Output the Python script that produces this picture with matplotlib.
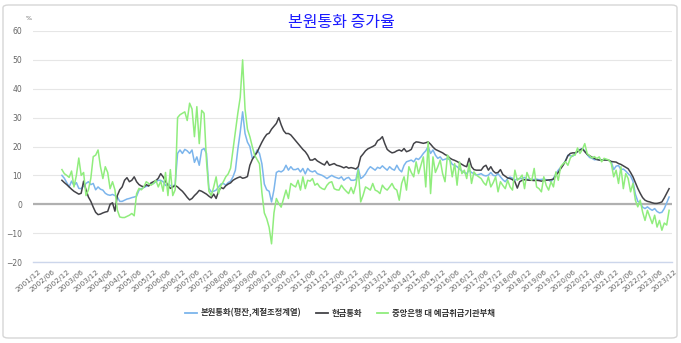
import matplotlib
matplotlib.use('Agg')
import matplotlib.pyplot as plt
import numpy as np
import pandas as pd
from matplotlib.patches import FancyBboxPatch
from matplotlib.transforms import ScaledTranslation
from matplotlib.lines import Line2D

plt.rcParams['font.family'] = ['Noto Sans CJK KR', 'DejaVu Sans']

# ---------------- data ----------------
axis_start = '2001-12'
axis_end = '2023-12'
data_start = '2002-12'

series_names = ['본원통화(평잔,계절조정계열)', '현금통화', '중앙은행 대 예금취급기관부채']

# 본원통화 (monthly, 2002/12 .. 2023/12)
blue = [
    10.0, 9.0, 7.5, 6.0, 8.0, 6.5, 7.5, 5.5, 5.4, 6.3, 7.2, 7.8, 6.8, 7.2, 5.0, 6.0, 5.2, 4.9, 3.8, 3.3,
    3.1, 3.4, 3.0, 2.5, 1.0, 1.0, 1.4, 1.8, 2.0, 2.3, 2.5, 2.8, 4.9, 5.4, 5.8, 6.2, 6.6, 7.0, 7.2, 7.8,
    8.3, 8.3,
    7.8, 6.5, 7.0, 6.5, 6.0, 7.0, 17.6, 18.8, 17.6, 19.0, 18.5, 17.6, 18.8, 14.5, 16.4, 13.5, 18.8, 19.3,
    17.6, 5.5, 4.3, 4.5, 4.9, 6.0, 7.0, 7.2, 6.6, 7.5, 8.0, 9.5, 11.8, 19.0, 25.0, 32.0, 24.5, 21.5,
    20.0, 16.0, 16.5, 18.8, 17.6, 14.0, 7.0, 5.0, 4.5,
    0.8, 5.0, 11.0, 11.5, 11.2, 11.8, 13.5, 11.8, 13.0, 12.0, 12.0, 12.4, 11.2, 12.4, 10.5, 12.4, 11.5,
    11.2, 11.6, 10.6, 10.3, 10.0, 9.5, 8.9, 9.5, 10.0, 9.5, 9.2, 8.9, 9.5, 8.3, 9.0, 9.3, 8.3, 8.3, 8.5,
    12.4, 8.9, 9.5, 10.5, 12.0, 13.0, 12.4, 11.8,
    12.8, 12.4, 13.3, 12.5, 11.8, 13.0, 12.2, 11.8, 13.5, 12.0, 11.2, 13.5, 14.7, 15.0, 15.3, 14.7, 15.9,
    15.5, 16.4, 17.6, 18.5, 20.0, 17.6, 18.8, 17.0, 15.9, 16.4, 15.3, 15.6, 15.9, 15.3, 13.8, 13.5, 13.0,
    12.2, 11.5, 11.0, 10.6, 11.8, 11.0, 10.6, 10.1, 10.3,
    10.6, 10.0, 9.8, 10.1, 11.0, 10.0, 9.8, 10.6, 9.5, 8.5, 7.8, 8.9, 9.4, 9.0, 8.3, 8.8, 8.9, 8.9, 9.3,
    8.6, 8.7, 8.5, 8.6, 8.7, 8.5, 8.6, 8.7, 8.5, 8.4, 7.8, 9.0, 10.5, 11.8, 12.8, 13.8, 15.0, 17.0, 16.8,
    16.6, 17.6, 18.2, 19.0, 19.3, 18.5,
    17.2, 16.2, 15.9, 15.4, 15.5, 15.4, 15.3, 15.5, 15.4, 15.2, 14.7, 12.0, 13.2, 13.4, 12.0, 12.2, 11.5,
    10.6, 9.8, 8.0, 3.5, 1.0, 0.5, -1.0, -1.5, -0.9, -1.6, -2.1, -1.5, -2.5, -3.0, -2.8, -1.5, 0.5, 2.5,
]

# 현금통화
black = [
    8.3, 7.5, 6.8, 6.0, 5.2, 4.5, 4.0, 3.5, 3.8, 8.0, 5.0, 2.5, 1.0, -1.0, -2.8, -3.6, -3.4, -3.0, -2.7,
    -2.5, 0.0, 0.5, -2.4, 3.0, 5.0, 6.0, 8.3, 9.2, 7.8, 8.3, 9.5, 7.8, 6.8, 6.3, 6.0, 6.8, 6.3, 7.4, 7.8,
    8.2, 9.0, 10.6,
    9.5, 8.0, 6.5, 5.5, 6.0, 6.5, 6.0, 5.2, 4.5, 3.5, 2.4, 1.5, 2.0, 3.0, 3.8, 4.8, 4.5, 4.0, 3.5, 2.8,
    2.2, 3.5, 2.0, 4.5, 5.8, 5.4, 6.4, 7.0, 7.4, 8.3, 8.8, 9.2, 9.5, 9.0, 9.2, 9.6, 13.5, 15.5, 16.8,
    18.0, 19.8, 21.5, 23.0, 24.2, 24.6,
    26.0, 27.0, 28.0, 30.0, 27.5, 25.5, 24.5, 24.5, 24.0, 23.0, 22.0, 21.0, 20.0, 19.0, 18.2, 17.0, 15.3,
    15.3, 15.8, 15.0, 14.5, 14.0, 13.6, 14.9, 13.5, 13.8, 14.1, 13.5, 13.3, 13.0, 12.6, 13.0, 12.5, 12.7,
    12.5, 12.2, 13.0, 16.4, 17.4, 18.5, 19.2, 19.6, 20.0, 20.5,
    22.0, 22.5, 23.4, 21.0, 19.0, 18.3, 17.8, 18.0, 18.5, 18.8, 18.4, 19.3, 18.2, 18.5, 19.0, 21.0, 21.6,
    21.5, 21.3, 21.1, 21.3, 21.6, 20.8, 19.8, 19.0, 18.6, 18.2, 17.8, 17.2, 16.8, 16.0, 15.5, 15.2, 14.8,
    14.3, 13.8, 13.3, 13.0, 15.9, 13.0, 12.0, 11.8, 11.8,
    11.8, 13.0, 13.5, 11.8, 13.0, 11.5, 10.8, 11.0, 12.0, 10.3, 9.7, 9.1, 8.9, 8.5, 7.8, 5.6, 7.8, 8.3,
    8.5, 8.4, 8.3, 8.3, 8.2, 8.3, 8.2, 8.0, 8.2, 8.3, 8.4, 8.5, 8.7, 10.0, 11.0, 12.3, 13.5, 15.0, 16.8,
    17.6, 17.8, 17.8, 18.2, 18.8, 19.2, 18.2,
    17.3, 16.8, 16.3, 15.9, 15.5, 15.3, 15.3, 15.3, 15.3, 15.2, 14.8, 14.7, 14.6, 14.1, 13.8, 13.3, 12.8,
    12.3, 11.0, 9.5, 7.5, 5.5, 3.8, 2.3, 1.4, 1.0, 0.8, 0.5, 0.3, 0.3, 0.5, 0.8, 2.2, 3.8, 5.4,
]

# 중앙은행 대 예금취급기관부채
green = [
    12.0, 10.6, 10.0, 9.3, 11.5, 6.0, 10.0, 16.0, 10.0, 11.0, 3.0, 5.0, 9.0, 16.5, 17.0, 18.8, 13.0, 8.9,
    13.0, 11.0, 5.4, 7.8, 5.0, -2.0, -4.4, -4.6, -4.6, -4.2, -3.8, -3.2, -4.0, 3.7, 5.5, 5.0, 6.0, 7.8,
    7.2, 6.6, 7.2, 8.3, 6.0, 8.0,
    4.5, 11.0, 3.0, 12.0, 3.0, 5.0, 30.0, 31.0, 31.5, 32.0, 29.0, 35.0, 33.0, 23.4, 33.8, 21.0, 32.5, 31.5,
    15.0, 4.5, 3.0, 6.0, 9.5, 3.7, 6.5, 7.8, 9.5, 10.5, 12.5, 18.8, 25.0, 31.5, 37.0, 50.0, 33.0, 26.0,
    23.4, 20.0, 17.0, 15.5, 14.0, 4.0, -3.0, -5.0, -8.0,
    -13.7, -3.0, 2.0, 0.2, -1.0, 2.0, 4.9, 2.0, 7.2, 6.5, 6.0, 8.3, 4.9, 9.5, 5.4, 8.3, 8.0, 8.9, 6.6, 7.2,
    6.0, 5.4, 5.1, 6.6, 7.5, 7.8, 5.4, 5.0, 4.9, 6.6, 5.4, 4.5, 3.7, 5.8, 3.7, 6.6, 11.8, 0.8, 3.1, 6.0,
    5.5, 4.9, 7.2, 4.9,
    4.5, 3.7, 6.6, 5.5, 4.9, 6.0, 7.2, 5.5, 4.9, 1.4, 7.2, 9.5, 4.9, 13.0, 11.0, 9.5, 14.7, 10.6, 13.5,
    16.4, 6.0, 21.6, 3.7, 16.4, 11.0, 13.0, 15.3, 10.6, 7.8, 17.0, 15.3, 9.5, 14.1, 6.6, 14.7, 10.6, 11.8,
    8.9, 14.1, 7.2, 11.2, 10.1, 9.5,
    8.9, 7.5, 6.6, 9.5, 6.0, 7.5, 9.5, 4.3, 7.8, 6.5, 5.4, 8.3, 6.0, 4.9, 11.8, 8.3, 9.0, 10.1, 5.4, 11.0,
    9.0, 8.3, 12.4, 6.0, 5.4, 4.3, 9.5, 6.5, 4.9, 7.8, 6.0, 11.2, 8.3, 13.0, 14.0, 14.7, 13.5, 16.0, 17.0,
    17.0, 19.5, 17.6, 19.0, 21.0,
    17.5, 16.8, 16.0, 16.5, 15.8, 16.4, 14.7, 15.9, 15.6, 15.3, 14.1, 9.5, 11.8, 7.2, 13.0, 5.4, 10.6, 8.9,
    4.3, 7.2, 1.4, -0.9, 1.4, -2.7, -5.6, -2.1, -4.4, -6.7, -3.8, -7.9, -5.6, -9.0, -6.5, -7.2, -2.1,
]

tick_labels = [
    '2001/12', '2002/06', '2002/12', '2003/06', '2003/12', '2004/06', '2004/12', '2005/06', '2005/12',
    '2006/06', '2006/12', '2007/06', '2007/12', '2008/06', '2008/12', '2009/06', '2009/12', '2010/06',
    '2010/12', '2011/06', '2011/12', '2012/06', '2012/12', '2013/06', '2013/12', '2014/06', '2014/12',
    '2015/06', '2015/12', '2016/06', '2016/12', '2017/06', '2017/12', '2018/06', '2018/12', '2019/06',
    '2019/12', '2020/06', '2020/12', '2021/06', '2021/12', '2022/06', '2022/12', '2023/06', '2023/12',
]
y_ticks = [-20, -10, 0, 10, 20, 30, 40, 50, 60]

colors = ['#7cb5ec', '#434348', '#90ed7d']

# ---------------- build ----------------
months = pd.period_range(axis_start, axis_end, freq='M')
data_months = pd.period_range(data_start, axis_end, freq='M')
assert len(blue) == len(data_months) == len(black) == len(green), (len(blue), len(black), len(green), len(data_months))
x = np.array([months.get_loc(p) for p in data_months])
tick_pos = [months.get_loc(pd.Period(t.replace('/', '-'), freq='M')) for t in tick_labels]

W, H = 681, 343
fig = plt.figure(figsize=(W / 100, H / 100), dpi=100)
fig.patch.set_facecolor('white')

# outer rounded frame
frame = FancyBboxPatch((3 / W, 5 / H), (677 - 3) / W, (338 - 5) / H,
                       boxstyle='round,pad=0,rounding_size=0.008',
                       transform=fig.transFigure, fc='white', ec='#d6d6d6', lw=1.0, zorder=-5)
fig.patches.append(frame)

left, right, top, bottom = 33, 672, 31, 262
ax = fig.add_axes([left / W, 1 - bottom / H, (right - left) / W, (bottom - top) / H])
ax.set_facecolor('none')

for vals, c in zip([blue, black, green], colors):
    ax.plot(x, vals, color=c, lw=1.1, solid_joinstyle='round', zorder=3)

ax.axhline(0, color='#b0b0b0', lw=1.6, zorder=2)

ax.set_xlim(0, 265.2)
ax.set_ylim(-20, 60)
ax.set_yticks(y_ticks)
ax.yaxis.grid(True, color='#e6e6e6', lw=0.8)
ax.set_axisbelow(True)
for s in ['top', 'right', 'left']:
    ax.spines[s].set_visible(False)
ax.spines['bottom'].set_color('#ccd6eb')
ax.spines['bottom'].set_linewidth(1.0)

ax.tick_params(axis='y', length=0, pad=8, labelsize=5.5, labelcolor='#666666')
ax.set_xticks(tick_pos)
ax.set_xticklabels(tick_labels, rotation=40, ha='right', fontsize=5.3, color='#666666',
                   family=['DejaVu Sans'])
ax.tick_params(axis='x', length=0, pad=5)
offset = ScaledTranslation(9 / 100, 0, fig.dpi_scale_trans)
for lab in ax.get_xticklabels():
    lab.set_transform(lab.get_transform() + offset)
for lab in ax.get_yticklabels():
    lab.set_family(['DejaVu Sans'])

fig.text(29 / W, 1 - 18 / H, '%', fontsize=4.5, color='#666666', ha='center', va='center',
         family=['DejaVu Sans'])

fig.text(341 / W, 1 - 22 / H, '본원통화 증가율', color='#1a1aff', fontsize=11.5,
         ha='center', va='center')

handles = [Line2D([0], [0], color=c, lw=1.3) for c in colors]
leg = fig.legend(handles, series_names, loc='center', bbox_to_anchor=(340 / W, 1 - 313 / H),
                 ncol=3, frameon=False, handlelength=1.4, handletextpad=0.4, columnspacing=1.8,
                 prop={'size': 6.0, 'weight': 'bold'})
for t in leg.get_texts():
    t.set_color('#333333')

fig.savefig('out.png', dpi=100)
